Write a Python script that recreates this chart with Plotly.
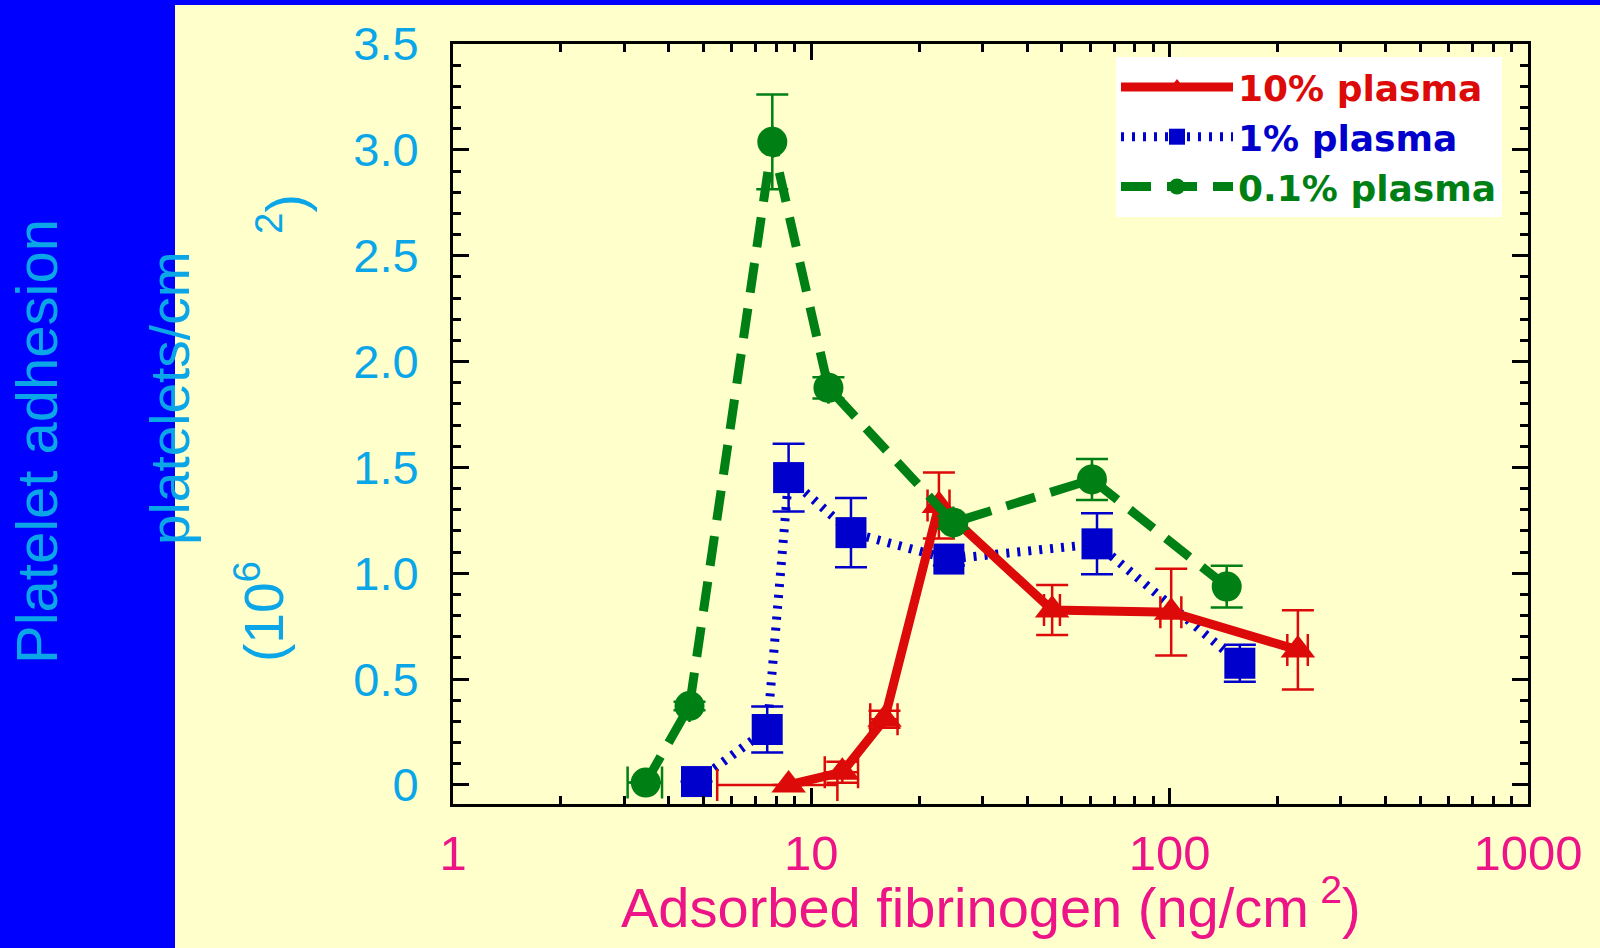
import plotly.graph_objects as go

# ---------------- data ----------------
red_name = "10% plasma"
red_x = [8.64, 12.2, 16.0, 22.7, 47.0, 101.0, 228.0]
red_y = [0.0, 0.06, 0.31, 1.32, 0.826, 0.816, 0.638]
red_yerr = [None, 0.05, 0.04, 0.156, 0.118, 0.205, 0.187]
red_xerr = [3.18, 1.3, 1.4, 1.6, 2.4, 6.8, 15.0]

blue_name = "1% plasma"
blue_x = [4.78, 7.53, 8.64, 12.9, 24.2, 62.7, 157.0]
blue_y = [0.016, 0.262, 1.452, 1.192, 1.067, 1.139, 0.575]
blue_yerr = [None, 0.109, 0.16, 0.164, 0.03, 0.144, 0.087]

green_name = "0.1% plasma"
green_x = [3.45, 4.57, 7.78, 11.16, 24.9, 60.7, 144.3]
green_y = [0.011, 0.373, 3.038, 1.876, 1.240, 1.443, 0.937]
green_yerr = [None, 0.02, 0.224, 0.05, 0.03, 0.097, 0.099]
green_xerr = [0.38, None, None, None, None, None, None]

y_tickvals = [0, 0.5, 1.0, 1.5, 2.0, 2.5, 3.0, 3.5]
y_ticktext = ["0", "0.5", "1.0", "1.5", "2.0", "2.5", "3.0", "3.5"]
x_tickvals = [1, 10, 100, 1000]
x_ticktext = ["1", "10", "100", "1000"]

# ---------------- style ----------------
RED = "#dd0a0a"
BLUE = "#0000cc"
GREEN = "#007f14"
CYAN = "#0aa6e8"
MAGENTA = "#ec1486"
BG = "#ffffcc"
FONT = "Liberation Sans, Arial, sans-serif"

W, H = 1600, 948
L, R, T, B = 453, 1528, 44, 804
PW, PH = R - L, B - T


def px2x(px):
    return (px - L) / PW


def py2y(py):
    return (B - py) / PH


def eb(arr, color):
    return dict(type="data", array=arr, visible=True, color=color,
                thickness=2.5, width=16)


fig = go.Figure()

fig.add_trace(go.Scatter(
    x=blue_x, y=blue_y, name=f"<b><span style='color:{BLUE}'>{blue_name}</span></b>",
    mode="lines+markers", legendrank=2,
    line=dict(color=BLUE, width=9, dash="3px,8px"),
    marker=dict(symbol="square", size=31, color=BLUE),
    error_y=eb(blue_yerr, BLUE),
))
fig.add_trace(go.Scatter(
    x=red_x, y=red_y, name=f"<b><span style='color:{RED}'>{red_name}</span></b>",
    mode="lines+markers", legendrank=1,
    line=dict(color=RED, width=9),
    marker=dict(symbol="triangle-up", size=30, color=RED),
    error_y=eb(red_yerr, RED),
    error_x=eb(red_xerr, RED),
))
fig.add_trace(go.Scatter(
    x=green_x, y=green_y, name=f"<b><span style='color:{GREEN}'>{green_name}</span></b>",
    mode="lines+markers", legendrank=3,
    line=dict(color=GREEN, width=9, dash="30px,16px"),
    marker=dict(symbol="circle", size=30, color=GREEN),
    error_y=eb(green_yerr, GREEN),
    error_x=eb(green_xerr, GREEN),
))

axis_common = dict(
    showline=True, linewidth=3, linecolor="black", mirror="allticks",
    ticks="inside", tickcolor="black", tickwidth=2.5, showgrid=False,
    zeroline=False,
)

fig.update_xaxes(
    type="log", range=[-0.0002, 3.0002],
    tickvals=x_tickvals, ticktext=x_ticktext, ticklen=16,
    tickfont=dict(family=FONT, size=49, color=MAGENTA),
    minor=dict(ticks="inside", ticklen=8, tickwidth=2.5, tickcolor="black",
               dtick="D1", showgrid=False),
    ticklabelstandoff=4,
    **axis_common,
)
fig.update_yaxes(
    range=[-0.09, 3.5002],
    tickvals=y_tickvals, ticktext=y_ticktext, ticklen=16,
    tickfont=dict(family=FONT, size=47, color=CYAN),
    minor=dict(ticks="inside", ticklen=8, tickwidth=2.5, tickcolor="black",
               dtick=0.1, tick0=0, showgrid=False),
    ticklabelstandoff=22,
    **axis_common,
)

ann = [
    dict(text="Adsorbed fibrinogen (ng/cm\u2009<sup>2</sup>)", x=px2x(991),
         y=py2y(941), textangle=0, yanchor="bottom",
         font=dict(family=FONT, size=56, color=MAGENTA)),
    dict(text="Platelet adhesion", x=px2x(36), y=py2y(442), textangle=-90,
         font=dict(family=FONT, size=58, color=CYAN)),
    dict(text="platelets/cm", x=px2x(170), y=py2y(399), textangle=-90,
         font=dict(family=FONT, size=55, color=CYAN)),
    dict(text="(10<sup>6</sup>", x=px2x(260), y=py2y(612), textangle=-90,
         font=dict(family=FONT, size=55, color=CYAN)),
    dict(text="<sup>2</sup>)", x=px2x(282), y=py2y(214), textangle=-90,
         font=dict(family=FONT, size=55, color=CYAN)),
]
for a in ann:
    a.setdefault("yanchor", "middle")
    a.update(xref="paper", yref="paper", xanchor="center", showarrow=False)

shapes = [
    dict(type="rect", xref="paper", yref="paper", layer="below",
         x0=px2x(0), x1=px2x(175), y0=py2y(H), y1=py2y(0),
         fillcolor="#0000ff", line=dict(width=0)),
    dict(type="rect", xref="paper", yref="paper", layer="below",
         x0=px2x(175), x1=px2x(W), y0=py2y(5), y1=py2y(0),
         fillcolor="#0000ff", line=dict(width=0)),
]

fig.update_layout(
    width=W, height=H,
    margin=dict(l=L, r=W - R, t=T, b=H - B, pad=0),
    paper_bgcolor=BG, plot_bgcolor=BG,
    font=dict(family=FONT),
    showlegend=True,
    legend=dict(
        x=px2x(1116), y=py2y(57), xanchor="left", yanchor="top",
        bgcolor="white", borderwidth=0,
        font=dict(family="DejaVu Sans, Liberation Sans, sans-serif", size=36),
        itemwidth=112, tracegroupgap=0,
    ),
    annotations=ann,
    shapes=shapes,
)

fig.write_html("out.html")
